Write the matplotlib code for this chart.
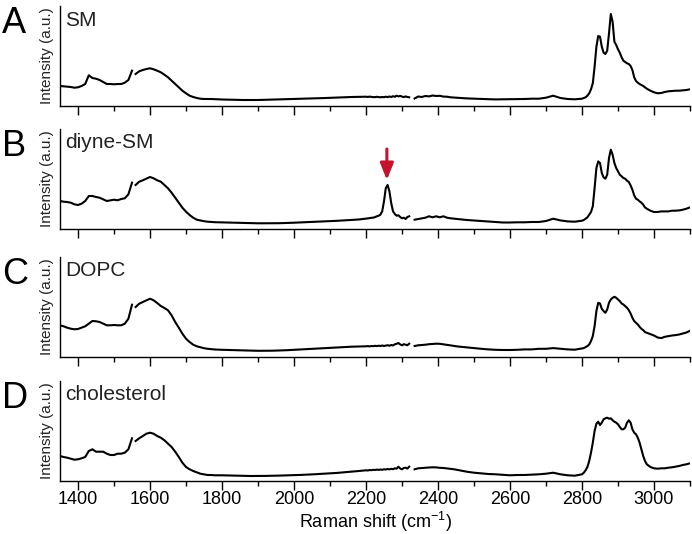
import numpy as np
import matplotlib
matplotlib.use("Agg")
import matplotlib.pyplot as plt
from matplotlib.ticker import MultipleLocator

plt.rcParams['font.family'] = ['Liberation Sans', 'DejaVu Sans']
plt.rcParams['mathtext.fontset'] = 'custom'
plt.rcParams['mathtext.rm'] = 'Liberation Sans'
plt.rcParams['mathtext.default'] = 'regular'

# wavenumber sampling of the three recorded windows (cm-1)
wn1 = np.arange(1350, 1551, 10)
wn2 = np.concatenate([np.arange(1560, 1801, 10), np.arange(1820, 2181, 20), np.arange(2200, 2321, 5)])
wn3 = np.concatenate([np.arange(2335, 2456, 10), np.arange(2480, 2781, 20),
                      np.arange(2800, 2981, 5), np.arange(2990, 3101, 10)])

letters = ['A', 'B', 'C', 'D']
names = ['SM', 'diyne-SM', 'DOPC', 'cholesterol']

# intensities (a.u.)
sm1 = [20, 19.7, 19.3, 19, 18.3, 18.7, 20, 22, 30.7, 28, 27.3, 26, 24, 22, 22, 21.7, 22, 22, 23.3, 26, 35.3]
sm2 = [32, 34.7, 36, 37, 37.7, 36.7, 35.3, 33.7, 31.3, 28.7, 25.3, 22, 18.7, 15.3, 12.7, 10.3, 9, 8, 7.3, 7, 7, 7, 6.8, 6.7, 6.5,
       6.3, 6.2, 6.0, 6.0, 6.0, 6.2, 6.4, 6.6, 6.8, 7.0, 7.1, 7.3, 7.6, 7.9, 8.2, 8.5, 8.8, 9.0, 9.2,
       9.3, 9.0, 9.4, 9.1, 9.0, 8.8, 9.2, 8.9, 8.7, 9.0, 8.8, 9.3, 8.9, 9.5, 9.0, 9.8, 9.2, 10.3, 9.6, 10.1, 9.4, 8.9, 9.6, 9.0, 8.7]
sm3 = [7.5, 9.5, 9.0, 10.0, 9.6, 10.5, 10.0, 10.2, 9.4, 9.3, 8.7, 8.5, 8.2,
       7.6, 7.3, 7.0, 6.8, 6.6, 6.7, 6.7, 7.0, 7.0, 7.3, 7.3, 8.3, 10.3, 8.0, 7.0, 6.7,
       7.3, 8, 8.7, 10.3, 12.7, 16.7, 22.7, 39.3, 59.3, 70, 69.3, 59.3, 53.3, 52, 55.3, 72.7, 92, 84.3, 64.3, 61,
       56.7, 53.3, 48.7, 45.3, 44, 42.7, 42, 40, 36, 28.7, 25, 23.3, 22, 21, 20, 18.7, 17.3,
       15.3, 13.7, 12.7, 13, 14, 14.7, 15, 15.3, 15.3, 15.7, 16, 16.7]

dsm1 = [28, 27.3, 27, 26.3, 24.7, 24, 25.3, 28, 33, 33, 32, 31.3, 29.7, 28, 28.7, 29.3, 28.7, 30, 30.7, 34.7, 46.3]
dsm2 = [44, 47.3, 48.7, 50.3, 52, 50.7, 48.7, 47.3, 44, 40.7, 36.3, 31.3, 26.3, 21.3, 17.3, 14, 11.3, 9.3, 8.5, 7.8, 7.3, 7, 6.8, 6.7, 6.6,
        6.4, 6.2, 6.0, 5.8, 5.7, 5.7, 5.7, 5.8, 6.0, 6.3, 6.6, 6.9, 7.2, 7.5, 7.8, 8.2, 8.6, 9.0, 9.5,
        10.3, 10.6, 10.9, 11.2, 11.3, 11.9, 12.7, 13.3, 14.3, 17.7, 27.7, 41, 44, 37.7, 26, 17.7, 15, 13.3, 13.7, 12, 10.7, 11.3, 10, 12, 12.7]
dsm3 = [9.3, 10, 10.7, 11.3, 12.7, 11.7, 12.7, 11.7, 12.7, 11.3, 10.7, 10.3, 10,
        9, 8.5, 8, 7.5, 7, 6.5, 6.5, 6.7, 6.7, 7, 7, 8, 10.3, 8.6, 7.6, 7.3,
        8.3, 9, 10.3, 11.6, 14.3, 17, 22.6, 41, 61, 67.6, 66, 56, 51.6, 50.3, 54.3, 71, 79.3, 74.3, 66, 61,
        57.6, 54.3, 52.6, 51, 50.3, 48.3, 47, 43.6, 39.3, 33.6, 30.3, 29.3, 27.6, 26.3, 24.3, 21.6, 20.3,
        18.3, 17, 17, 17.6, 17.6, 17.6, 18.3, 18.3, 18.6, 19.3, 20.3, 21.6]

dopc1 = [31.7, 30.7, 29.3, 28.3, 27.7, 28, 29.3, 30.7, 33.3, 36, 35.7, 35, 33.3, 31.7, 31.7, 32, 31.7, 31.7, 33.3, 38.3, 52.3]
dopc2 = [50, 53.3, 55, 56.7, 58.3, 56.7, 54, 51, 49, 46.7, 41.7, 35, 29.3, 23.3, 18.3, 15, 12.3, 10.7, 9.7, 8.8, 8.2, 7.8, 7.5, 7.3, 7.2,
         7.0, 6.7, 6.5, 6.3, 6.2, 6.2, 6.3, 6.5, 6.8, 7.2, 7.6, 8.0, 8.4, 8.8, 9.2, 9.6, 10.0, 10.3, 10.5,
         10.7, 10.9, 10.6, 11.0, 10.8, 11.2, 10.9, 11.3, 11.0, 11.5, 11.0, 11.4, 11.8, 11.2, 12.0, 11.5, 12.7, 13.2, 14.0, 12.6, 11.7, 12.8, 12.3, 11.8, 13.3]
dopc3 = [11, 11.7, 12, 12.3, 12.8, 13, 13.3, 13.2, 12.7, 12.3, 11.6, 11, 10.5,
         9.6, 8.8, 8.2, 7.6, 7.2, 7.0, 7.0, 7.2, 7.6, 7.6, 8.2, 8.2, 8.9, 8.3, 7.6, 7.3,
         8.5, 8.9, 9.9, 10.9, 12.5, 15.9, 20.9, 30.9, 45.9, 54.2, 53.5, 48.2, 45.9, 44.2, 47.5, 54.2, 57.5, 59.2, 60.2, 59.2,
         57.5, 55.9, 53.5, 52.5, 50.9, 49.2, 46.9, 43.5, 39.2, 35.9, 34.2, 32.5, 30.2, 28.2, 26.9, 24.9, 24.2,
         22.9, 21.5, 19.5, 18.9, 20.2, 20.9, 21.5, 21.9, 22.5, 23.5, 24.5, 26.2]

chol1 = [25, 24, 23.3, 22.3, 21.3, 21.7, 22.7, 24, 30, 31.7, 29.3, 29.3, 29.3, 27.3, 26, 26, 27.3, 27.3, 28.3, 31.7, 42.7]
chol2 = [40, 42.7, 45, 47.3, 48.3, 47.3, 45, 43.3, 40.7, 37.3, 34, 29.3, 24, 18.3, 14, 11.7, 10, 8.7, 7.3, 6.7, 6, 6, 5.7, 5.7, 5.7,
         5.5, 5.3, 5.1, 5.0, 5.0, 5.1, 5.2, 5.4, 5.6, 5.8, 6.1, 6.4, 6.8, 7.2, 7.6, 8.1, 8.7, 9.3, 10.0,
         10.7, 10.5, 11.0, 10.8, 11.2, 11.0, 11.4, 11.1, 11.5, 11.2, 11.7, 11.5, 12.0, 11.6, 12.2, 11.8, 12.7, 12.3, 14.3, 12.5, 11.7, 13.0, 13.3, 12.4, 14.3]
chol3 = [11.7, 12.7, 13.0, 13.3, 13.5, 13.7, 13.6, 13.2, 13.0, 12.6, 12.2, 11.7, 11.0,
         9.3, 8.3, 7.7, 7.0, 6.7, 6.2, 5.7, 6.0, 6.0, 6.3, 6.7, 7.3, 8.3, 6.7, 5.7, 5.3,
         6.7, 8.3, 10.7, 14, 20, 28.3, 38.3, 50, 57.3, 59.3, 56, 58.3, 61.7, 62.7, 63.3, 62.3, 62.7, 60.7, 59.3, 58.3,
         56.7, 54, 51.7, 51.7, 53.3, 58.3, 60.7, 58.3, 51.7, 48.3, 46.7, 43.3, 38.3, 31.7, 25, 20, 16.7,
         14, 12.7, 12.3, 12.7, 12.7, 13.3, 13.7, 14.3, 15, 16, 16.7, 17.7]

spectra = [(sm1, sm2, sm3), (dsm1, dsm2, dsm3), (dopc1, dopc2, dopc3), (chol1, chol2, chol3)]

alkyne_peak = 2258  # position of the red arrow in panel B

W, H = 692, 534
fig = plt.figure(figsize=(W / 100, H / 100), dpi=100)

tops = [6, 129, 257, 381]   # pixel rows of axes tops
ax_h = 100
for i, (top, segs) in enumerate(zip(tops, spectra)):
    ax = fig.add_axes([60 / W, 1 - (top + ax_h) / H, 630 / W, ax_h / H])
    x = np.concatenate([wn1, [np.nan], wn2, [np.nan], wn3])
    y = np.concatenate([segs[0], [np.nan], segs[1], [np.nan], segs[2]])
    ax.plot(x, y, color='black', lw=1.5)
    ax.set_xlim(1350, 3100)
    ax.set_ylim(0, 100)
    for s in ['top', 'right']:
        ax.spines[s].set_visible(False)
    for s in ['left', 'bottom']:
        ax.spines[s].set_linewidth(1.0)
    ax.set_yticks([])
    ax.xaxis.set_major_locator(MultipleLocator(200))
    ax.xaxis.set_minor_locator(MultipleLocator(100))
    ax.tick_params(axis='x', which='major', direction='out', length=6.5, width=1.0, labelsize=13, pad=1)
    ax.tick_params(axis='x', which='minor', direction='out', length=3.6, width=1.0)
    ax.set_ylabel('Intensity (a.u.)', fontsize=11, labelpad=4, color='#222222')
    if i < 3:
        ax.tick_params(axis='x', labelbottom=False)
    else:
        ax.set_xlabel('Raman shift (cm$^{-1}$)', fontsize=13, labelpad=1)
    fig.text(2 / W, 1 - (top + 27) / H, letters[i], fontsize=26, va='baseline', ha='left')
    fig.text(65 / W, 1 - (top + 19.5) / H, names[i], fontsize=15, va='baseline', ha='left', color='#222222')
    if i == 1:
        ax.annotate('', xy=(alkyne_peak, 49), xytext=(alkyne_peak, 80),
                    arrowprops=dict(arrowstyle='-|>,head_width=0.4,head_length=1.0',
                                    color='#c4122f', lw=2.2, shrinkA=0, shrinkB=0))

fig.savefig('out.png', dpi=100)
